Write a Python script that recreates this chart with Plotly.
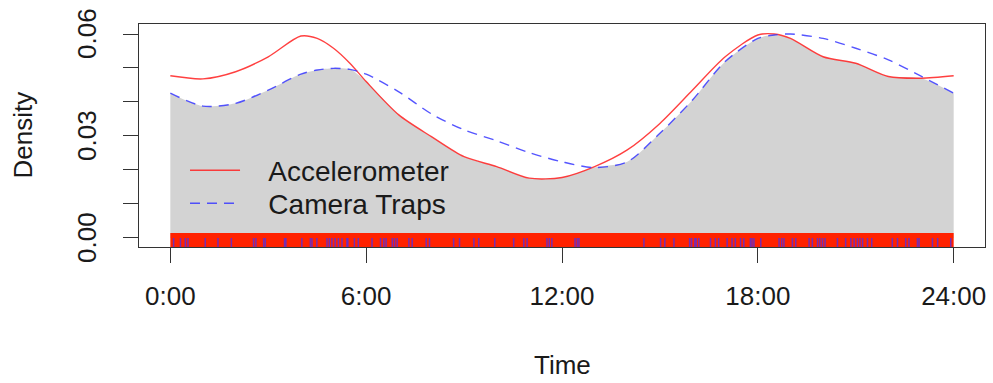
import plotly.graph_objects as go
import numpy as np

# ---- data ----
hours = [0, 1, 2, 3, 4, 4.5, 5, 5.5, 6, 7, 8, 9, 10, 11, 12, 13, 14, 15, 16, 17, 18, 18.5, 19, 20, 21, 22, 23, 24]
accelerometer = [0.0477, 0.0468, 0.0489, 0.0533, 0.0594, 0.0587, 0.0558, 0.0514, 0.0460, 0.0362, 0.0298,
                 0.0239, 0.0210, 0.0176, 0.0178, 0.0210, 0.0259, 0.0337, 0.0435, 0.0533, 0.0597, 0.0600,
                 0.0587, 0.0533, 0.0514, 0.0475, 0.0470, 0.0477]
camera_traps = [0.0426, 0.0388, 0.0396, 0.0435, 0.0482, 0.0494, 0.0499, 0.0496, 0.0482, 0.0430, 0.0365,
                0.0318, 0.0286, 0.0251, 0.0224, 0.0207, 0.0224, 0.0308, 0.0406, 0.0519, 0.0587, 0.0597,
                0.0600, 0.0587, 0.0558, 0.0524, 0.0476, 0.0426]
# camera trap detection times (hours) for the rug
camera_rug = [0.10, 0.31, 0.46, 0.54, 1.07, 1.46, 1.87, 2.55, 2.62, 2.86, 2.91, 3.50, 3.54, 4.03, 4.29, 4.34,
              4.49, 4.80, 4.87, 4.95, 5.05, 5.15, 5.26, 5.41, 5.44, 5.64, 5.76,
              6.18, 6.44, 6.54, 6.61, 6.80, 6.87, 6.95, 7.31, 7.41, 7.84, 7.94, 8.68, 8.86, 9.30, 9.45, 9.94,
              10.52, 10.83, 10.93, 11.54, 11.61, 11.69,
              12.40, 12.47, 12.52, 14.51, 15.02, 15.15, 15.43, 15.91, 15.97, 16.07, 16.11, 16.19, 16.55,
              16.70, 16.80, 17.06, 17.21, 17.31, 17.47, 17.57, 17.77, 17.82, 17.88,
              18.09, 18.65, 18.73, 18.80, 19.06, 19.16, 19.57, 19.67, 19.83, 19.90, 19.98, 20.06, 20.44,
              20.69, 20.85, 20.95, 21.05, 21.13, 21.21, 21.36, 21.49, 22.12, 22.28, 22.53, 22.63, 22.89,
              22.94, 23.35, 23.51, 23.91]
# accelerometer records are so dense their rug is a solid band over the full day
accel_rug_span = [0, 24]
x_tickvals = [0, 6, 12, 18, 24]
x_ticktext = ["0:00", "6:00", "12:00", "18:00", "24:00"]
y_tickvals = [0, 0.01, 0.02, 0.03, 0.04, 0.05, 0.06]
y_labelvals = [0.00, 0.03, 0.06]
series_names = ["Accelerometer", "Camera Traps"]

FONT = "Liberation Sans, Arial, Helvetica, sans-serif"
Y_MIN, Y_MAX = -0.00265, 0.06294
PAD = "\u00a0\u00a0\u00a0"

overlap = np.minimum(np.array(accelerometer), np.array(camera_traps))

fig = go.Figure()

# overlap area
fig.add_trace(go.Scatter(x=hours, y=overlap, mode="lines", line=dict(width=0, shape="spline", smoothing=0.8),
                         fill="tozeroy", fillcolor="#D3D3D3", showlegend=False, hoverinfo="skip"))

# accelerometer rug (solid band)
fig.add_trace(go.Scatter(x=[accel_rug_span[0], accel_rug_span[1], accel_rug_span[1], accel_rug_span[0], accel_rug_span[0]],
                         y=[Y_MIN, Y_MIN, 0.00147, 0.00147, Y_MIN], mode="lines", line=dict(width=0),
                         fill="toself", fillcolor="#FF2200", showlegend=False, hoverinfo="skip"))

# camera trap rug
rx, ry = [], []
for t in camera_rug:
    rx += [t, t, None]
    ry += [0.0, Y_MIN, None]
fig.add_trace(go.Scatter(x=rx, y=ry, mode="lines", line=dict(color="rgba(60,50,255,0.7)", width=1.5),
                         showlegend=False, hoverinfo="skip"))

# density curves
fig.add_trace(go.Scatter(x=hours, y=accelerometer, mode="lines", name=PAD + series_names[0], legend="legend",
                         line=dict(color="rgba(255,30,30,0.85)", width=1.4, shape="spline", smoothing=0.8)))
fig.add_trace(go.Scatter(x=hours, y=camera_traps, mode="lines", name=PAD + series_names[1], legend="legend2",
                         line=dict(color="rgba(55,55,255,0.85)", width=1.4, dash="10px,7px", shape="spline", smoothing=0.8)))

ann = []
for v in y_labelvals:
    ann.append(dict(text=f"{v:.2f}", x=0, xref="paper", xshift=-52, xanchor="center",
                    y=v, yref="y", yanchor="middle", textangle=-90, showarrow=False,
                    font=dict(size=26, color="#1a1a1a", family=FONT)))
ann.append(dict(text="Density", x=0, xref="paper", xshift=-117, xanchor="center",
                y=0.5, yref="paper", yanchor="middle", textangle=-90, showarrow=False,
                font=dict(size=26, color="#1a1a1a", family=FONT)))
ann.append(dict(text="Time", x=0.5, xref="paper", xanchor="center",
                y=0, yref="paper", yshift=-118, yanchor="middle", showarrow=False,
                font=dict(size=26, color="#1a1a1a", family=FONT)))

leg_common = dict(x=0.0544, xanchor="left", yanchor="top", bgcolor="rgba(0,0,0,0)",
                  font=dict(size=28, family=FONT, color="#1a1a1a"), itemwidth=50)

fig.update_layout(
    width=993, height=383, autosize=False,
    margin=dict(l=139, r=8, t=24, b=136, pad=0),
    paper_bgcolor="white", plot_bgcolor="white",
    font=dict(family=FONT, size=26, color="#1a1a1a"),
    annotations=ann,
    legend=dict(y=0.455, **leg_common),
    legend2=dict(y=0.307, **leg_common),
    xaxis=dict(range=[-0.96, 24.96], tickvals=x_tickvals, ticktext=x_ticktext, ticks="outside", ticklen=15,
               tickcolor="#333", tickwidth=1, showline=True, mirror=True, linecolor="#333", linewidth=1,
               showgrid=False, zeroline=False, tickfont=dict(size=26), ticklabelstandoff=11),
    yaxis=dict(range=[Y_MIN, Y_MAX], tickvals=y_tickvals, showticklabels=False, ticks="outside", ticklen=15,
               tickcolor="#333", tickwidth=1, showline=True, mirror=True, linecolor="#333", linewidth=1,
               showgrid=False, zeroline=False),
)

fig.write_html("out.html")
